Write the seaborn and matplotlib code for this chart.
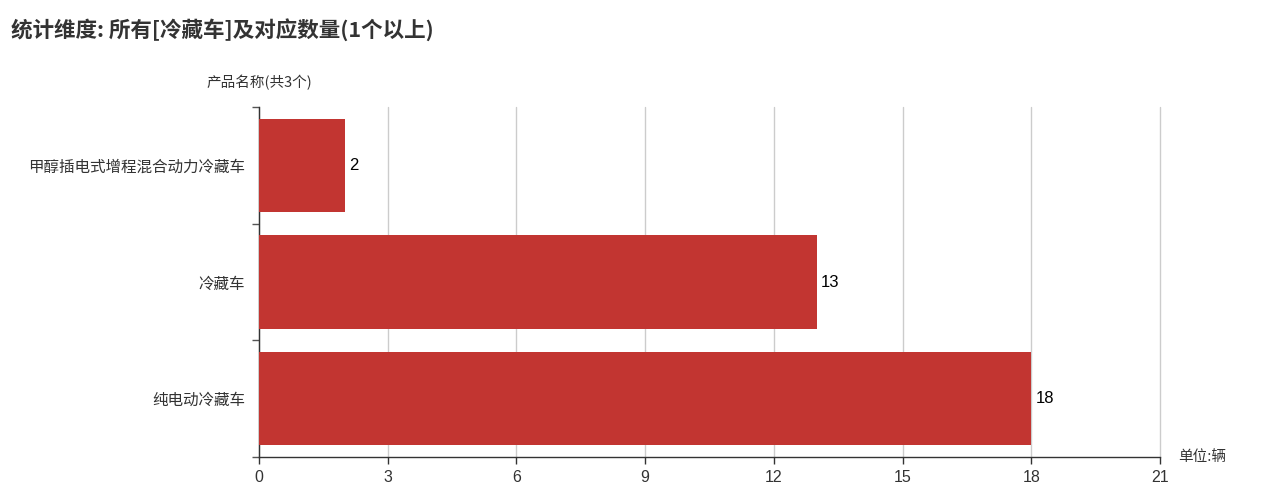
import matplotlib
matplotlib.use("Agg")
import matplotlib.pyplot as plt
import pandas as pd
import seaborn as sns

# data
products = ['甲醇插电式增程混合动力冷藏车', '冷藏车', '纯电动冷藏车']
counts = [2, 13, 18]
x_ticks = [0, 3, 6, 9, 12, 15, 18, 21]

title = '统计维度: 所有[冷藏车]及对应数量(1个以上)'
y_name = '产品名称(共3个)'
x_unit = '单位:辆'
bar_color = '#c23531'

sns.set_theme(style='white')
plt.rcParams['font.family'] = ['Noto Sans CJK SC', 'DejaVu Sans']
num_font = ['Liberation Sans', 'DejaVu Sans']

df = pd.DataFrame({'product': products, 'count': counts})

fig = plt.figure(figsize=(12.68, 5.0), dpi=100)
ax = fig.add_axes([0.2043, 0.086, 0.7105, 0.700])

sns.barplot(data=df, x='count', y='product', orient='h', color=bar_color,
            saturation=1, width=0.8, linewidth=0, ax=ax, zorder=3)

ax.set_xlim(x_ticks[0], x_ticks[-1])
ax.set_ylim(len(products) - 0.5, -0.5)
ax.set_xticks(x_ticks)
ax.set_xticklabels([str(t) for t in x_ticks], fontsize=11.5, color='#333333',
                   family=num_font)
ax.tick_params(axis='x', length=5, width=1, color='#333333', direction='out',
               bottom=True, pad=4)
ax.tick_params(axis='y', which='major', length=0, labelsize=11.2, labelcolor='#333333', pad=10)
ax.set_yticks([i - 0.5 for i in range(len(products) + 1)], minor=True)
ax.tick_params(axis='y', which='minor', length=5, width=1, color='#555555', left=True)

ax.grid(axis='x', color='#cccccc', linewidth=1, zorder=0)
ax.grid(axis='y', visible=False)
for line in ax.get_xgridlines():
    line.set_clip_on(False)
for side in ['top', 'right']:
    ax.spines[side].set_visible(False)
for side in ['left', 'bottom']:
    ax.spines[side].set_color('#333333')
    ax.spines[side].set_linewidth(1)

ax.set_xlabel('')
ax.set_ylabel('')

for i, v in enumerate(counts):
    ax.text(v + 0.1, i, str(v), va='center', ha='left', fontsize=12, color='#000000',
            family=num_font)

fig.text(0.009, 0.94, title, fontsize=15.5, fontweight='bold', color='#333333',
         va='center', ha='left')
fig.text(0.2043, 0.835, y_name, fontsize=10.5, color='#333333', va='center', ha='center')
fig.text(0.929, 0.086, x_unit, fontsize=10.5, color='#333333', va='center', ha='left')

fig.savefig('out.png', dpi=100)
